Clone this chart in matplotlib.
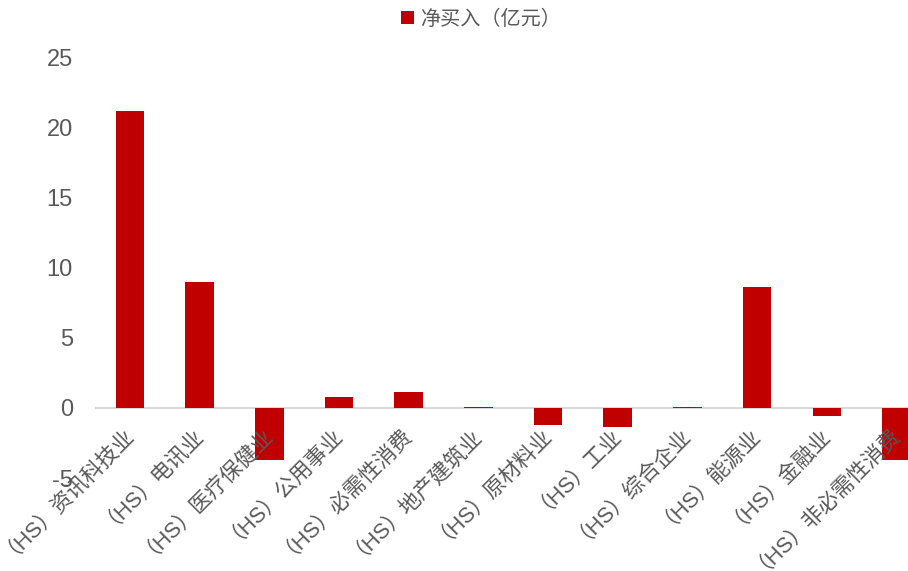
import matplotlib
matplotlib.use("Agg")
import matplotlib.pyplot as plt
from matplotlib.patches import Patch

plt.rcParams['font.family'] = ['Liberation Sans', 'Noto Sans CJK SC', 'DejaVu Sans']

categories = ["（HS）资讯科技业", "（HS）电讯业", "（HS）医疗保健业", "（HS）公用事业",
              "（HS）必需性消费", "（HS）地产建筑业", "（HS）原材料业", "（HS）工业",
              "（HS）综合企业", "（HS）能源业", "（HS）金融业", "（HS）非必需性消费"]
values = [21.15, 8.97, -3.75, 0.76, 1.16, 0.08, -1.25, -1.4, 0.08, 8.6, -0.6, -3.7]
series_name = "净买入（亿元）"
yticks = [-5, 0, 5, 10, 15, 20, 25]

W, H = 908, 571
fig = plt.figure(figsize=(W / 100, H / 100), dpi=100)
left_px, right_px = 95, 95 + 12 * 69.7
top_px, bottom_px = 57, 478
ax = fig.add_axes([left_px / W, 1 - bottom_px / H, (right_px - left_px) / W, (bottom_px - top_px) / H])

color = "#C00000"
x = list(range(len(categories)))
ax.bar(x, values, width=0.41, color=color, zorder=3)
ax.axhline(0, color="#D9D9D9", linewidth=1.5, zorder=2)

ax.set_xlim(-0.5, len(categories) - 0.5)
ax.set_ylim(-5, 25)
ax.set_yticks(yticks)
ax.set_yticklabels([str(t) for t in yticks], fontsize=17, color="#595959")
ax.tick_params(axis='y', length=0, pad=16)
ax.tick_params(axis='x', length=0)
for s in ax.spines.values():
    s.set_visible(False)

ax.set_xticks(x)
ax.set_xticklabels([])
for xi, lab in zip(x, categories):
    ax.annotate(lab, xy=(xi, 0), xycoords='data',
                xytext=(-7.5, -6.5), textcoords='offset points',
                rotation=45, rotation_mode='anchor', ha='right', va='top',
                fontsize=15.5, color="#595959", annotation_clip=False, zorder=5)

handles = [Patch(facecolor=color, edgecolor='none')]
fig.legend(handles, [series_name], loc='center', bbox_to_anchor=(481 / W, 1 - 19 / H),
           frameon=False, fontsize=14.5, labelcolor="#595959",
           handlelength=0.6, handleheight=0.6, handletextpad=0.3)

fig.savefig("out.png", dpi=100)
